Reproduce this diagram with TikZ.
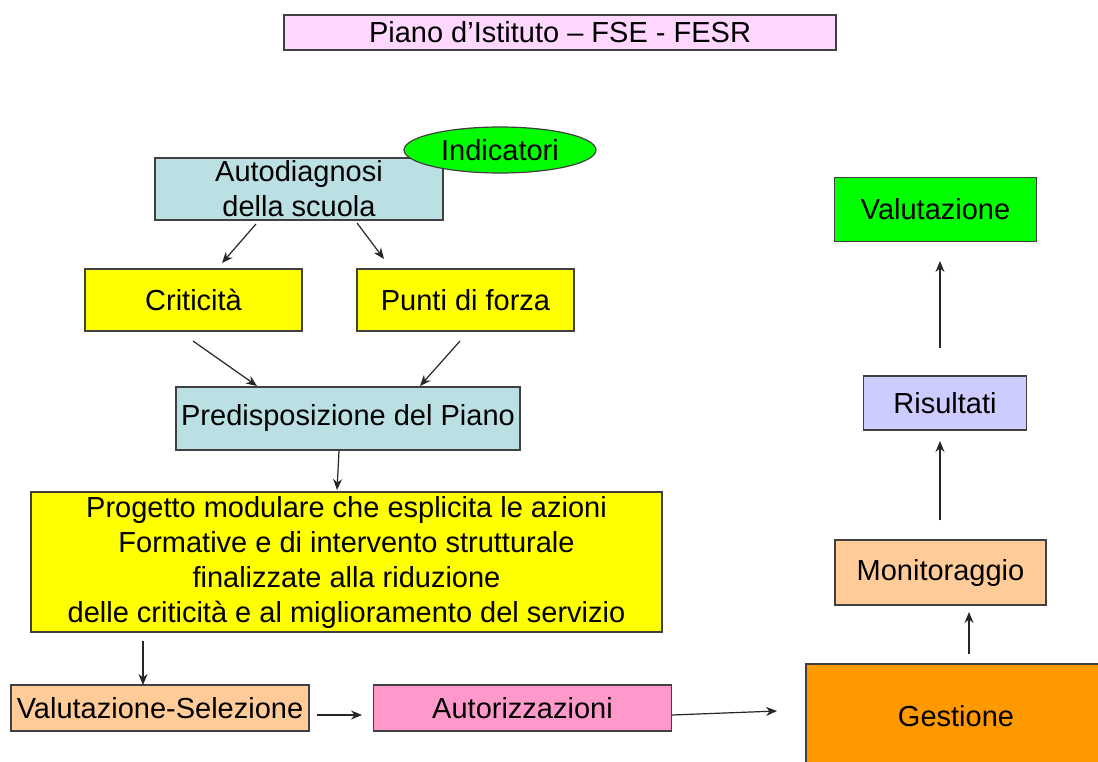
\documentclass[tikz,border=0pt]{standalone}
\usepackage{fontspec}
\setmainfont{Liberation Sans}
\usetikzlibrary{arrows.meta,shapes.geometric}
\definecolor{titlepink}{HTML}{FFD7FF}
\definecolor{tealbg}{HTML}{BBE0E3}
\definecolor{yel}{HTML}{FFFF00}
\definecolor{grn}{HTML}{00FF00}
\definecolor{peach}{HTML}{FFCC99}
\definecolor{pinkbg}{HTML}{FF99CC}
\definecolor{orng}{HTML}{FF9900}
\definecolor{lav}{HTML}{CCCCFF}
\definecolor{bord}{HTML}{404040}
\tikzset{
  box/.style={draw=bord, line width=1.2pt, inner sep=0pt, align=center,
    font=\fontsize{29}{35}\selectfont},
  arr/.style={-{Stealth[length=11pt,width=9pt]}, line width=1.2pt, black!85},
}
\begin{document}
\begin{tikzpicture}[x=1pt,y=-1pt]
\useasboundingbox (0,0) rectangle (1098,762);
\fill[white] (0,0) rectangle (1098,762);
% nodes
\node[box, fill=titlepink, minimum width=552pt, minimum height=35pt] (title) at (560,32.5) {Piano d’Istituto – FSE - FESR};
\node[box, fill=tealbg, minimum width=288pt, minimum height=62pt] (auto) at (299,189) {Autodiagnosi\\della scuola};
\node[box, ellipse, fill=grn, minimum width=192pt, minimum height=46pt] (ind) at (500,150) {Indicatori};
\node[box, fill=yel, minimum width=217pt, minimum height=62pt] (crit) at (193.5,300) {Criticità};
\node[box, fill=yel, minimum width=217pt, minimum height=62pt] (punti) at (465.5,300) {Punti di forza};
\node[box, fill=tealbg, minimum width=344pt, minimum height=63pt] (pred) at (348,418.5) {Predisposizione del Piano};
\node[box, fill=yel, minimum width=631pt, minimum height=140pt] (prog) at (346.5,562) {Progetto modulare che esplicita le azioni\\ Formative e di intervento strutturale\\finalizzate alla riduzione\\delle criticità e al miglioramento del servizio};
\node[box, fill=peach, minimum width=298pt, minimum height=46pt] (vsel) at (160,708) {Valutazione-Selezione};
\node[box, fill=pinkbg, minimum width=298pt, minimum height=46pt] (autor) at (522.5,708) {Autorizzazioni};
\node[box, fill=orng, minimum width=300pt, minimum height=104pt] (gest) at (956,716) {Gestione};
\node[box, fill=peach, minimum width=211pt, minimum height=65pt] (mon) at (940.5,572.5) {Monitoraggio};
\node[box, fill=lav, minimum width=163pt, minimum height=54pt] (ris) at (945,403) {Risultati};
\node[box, fill=grn, minimum width=202pt, minimum height=64pt] (val) at (935.5,209.5) {Valutazione};
% arrow end points
\coordinate (a1s) at (256,224); \coordinate (a1e) at (222,263);
\coordinate (a2s) at (357,223); \coordinate (a2e) at (384,259);
\coordinate (a3s) at (193,341); \coordinate (a3e) at (257,386);
\coordinate (a4s) at (460,341); \coordinate (a4e) at (420,386);
\coordinate (a5s) at (339,451); \coordinate (a5e) at (337,490);
\coordinate (a6s) at (143,641); \coordinate (a6e) at (143,685);
\coordinate (a7s) at (317,715); \coordinate (a7e) at (362,715);
\coordinate (a8s) at (672,715); \coordinate (a8e) at (777,711);
\coordinate (a9s) at (969,654); \coordinate (a9e) at (969,612);
\coordinate (a10s) at (940,520); \coordinate (a10e) at (940,441);
\coordinate (a11s) at (940,348); \coordinate (a11e) at (940,261);
\foreach \i in {1,...,11} {\draw[arr] (a\i s) -- (a\i e);}
\end{tikzpicture}
\end{document}
